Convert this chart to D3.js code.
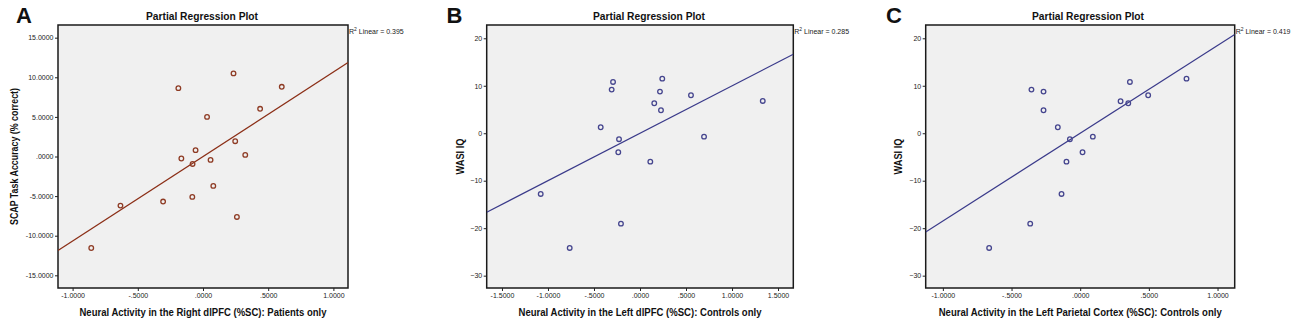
<!DOCTYPE html>
<html>
<head>
    <meta charset="UTF-8">
    <title>partial regression plots</title>
    <script src="https://cdn.jsdelivr.net/npm/d3@7"></script>
    <style type="text/css">
        body { margin: 0; background: #fff; }
        text { font-family: Arial, "Liberation Sans", sans-serif; }
        .tick text { font-size: 7px; fill: #222; }
        .frame { fill: #f0f0f0; stroke: #1a1a1a; stroke-width: 1.5px; }
        .dot { fill: none; stroke-width: 1.3px; }
    </style>
</head>
<body>
<script type="text/javascript">
    // panel A - patients, right dlPFC vs SCAP accuracy
    var aX = [-0.189, 0.234, 0.604, 0.438, 0.031, 0.247, -0.057, 0.324, -0.166, 0.058, -0.080, 0.079, -0.082, -0.306, -0.633, 0.260, -0.857];
    var aY = [8.63, 10.49, 8.80, 6.02, 5.00, 1.93, 0.80, 0.20, -0.25, -0.43, -0.94, -3.71, -5.10, -5.69, -6.20, -7.63, -11.55];
    // panel B - controls, left dlPFC vs WASI IQ
    var bX = [-0.293, -0.308, 0.242, 0.217, 0.554, 0.155, 0.228, 1.334, -0.427, 0.696, -0.228, -0.236, 0.112, -1.079, -0.207, -0.764];
    var bY = [10.8, 9.19, 11.5, 8.77, 8.0, 6.32, 4.84, 6.8, 1.26, -0.72, -1.26, -4.0, -5.98, -12.79, -19.04, -24.16];
    // panel C - controls, left parietal cortex vs WASI IQ
    var cX = [-0.355, -0.267, 0.362, 0.774, 0.495, 0.294, 0.350, -0.267, -0.163, -0.075, 0.092, 0.017, -0.100, -0.136, -0.364, -0.663];
    var cY = [9.19, 8.77, 10.8, 11.5, 8.0, 6.74, 6.32, 4.84, 1.26, -1.26, -0.72, -4.0, -5.98, -12.79, -19.04, -24.16];

    var panelLetters = ["A", "B", "C"];
    var titles = ["Partial Regression Plot", "Partial Regression Plot", "Partial Regression Plot"];
    var xLabels = [
        "Neural Activity in the Right dlPFC (%SC): Patients only",
        "Neural Activity in the Left dlPFC (%SC): Controls only",
        "Neural Activity in the Left Parietal Cortex (%SC): Controls only"
    ];
    var yLabels = ["SCAP Task Accuracy (% correct)", "WASI IQ", "WASI IQ"];
    var rSquared = ["0.395", "0.285", "0.419"];
    var slopes = [10.66, 9.99, 18.5];
    var intercepts = [0, 0, 0];

    var aXTicks = [-1, -0.5, 0, 0.5, 1];
    var bXTicks = [-1.5, -1, -0.5, 0, 0.5, 1, 1.5];
    var cXTicks = [-1, -0.5, 0, 0.5, 1];
    var aYTicks = [-15, -10, -5, 0, 5, 10, 15];
    var iqYTicks = [-30, -20, -10, 0, 10, 20];

    var width = 1300, height = 329;
    var plotTop = 25, plotBottom = 288;

    var svg = d3.select("body").append("svg")
        .attr("width", width)
        .attr("height", height);

    svg.append("rect").attr("width", width).attr("height", height).attr("fill", "#fff");

    // spss style numbers: .5000, -1.0000
    function spss(d){
        var s = Math.abs(d).toFixed(4);
        if (Math.abs(d) < 1) s = s.replace(/^0/, "");
        return (d < 0 ? "-" : "") + s;
    }

    var panels = [
        {xs: aX, ys: aY, left: 58, right: 348, xDom: [-1.112, 1.112], yDom: [-16.6, 16.6],
         xTicks: aXTicks, yTicks: aYTicks, yFmt: spss, color: "#8e3b24", lineColor: "#8b2e16",
         letterX: 16, titleX: 202, yLabelX: 14, xLabelW: 247, yLabelW: 137},
        {xs: bX, ys: bY, left: 486.7, right: 793.3, xDom: [-1.666, 1.666], yDom: [-32.6, 22.8],
         xTicks: bXTicks, yTicks: iqYTicks, yFmt: d3.format("d"), color: "#45458e", lineColor: "#3a3a8a",
         letterX: 446.5, titleX: 649, yLabelX: 460, xLabelW: 243, yLabelW: 36},
        {xs: cX, ys: cY, left: 925.7, right: 1234.7, xDom: [-1.125, 1.125], yDom: [-32.6, 22.8],
         xTicks: cXTicks, yTicks: iqYTicks, yFmt: d3.format("d"), color: "#45458e", lineColor: "#3a3a8a",
         letterX: 886, titleX: 1088, yLabelX: 898, xLabelW: 283, yLabelW: 36}
    ];

    panels.forEach(function(p, i){ renderPanel(p, i); });

    function renderPanel(p, i){
        var x = d3.scaleLinear().domain(p.xDom).range([p.left, p.right]);
        var y = d3.scaleLinear().domain(p.yDom).range([plotBottom, plotTop]);
        var g = svg.append("g");
        var cx = (p.left + p.right) / 2;

        g.append("rect")
            .attr("class", "frame")
            .attr("x", p.left).attr("y", plotTop)
            .attr("width", p.right - p.left)
            .attr("height", plotBottom - plotTop);

        var clipId = "clip" + i;
        g.append("clipPath").attr("id", clipId)
            .append("rect")
            .attr("x", p.left).attr("y", plotTop)
            .attr("width", p.right - p.left).attr("height", plotBottom - plotTop);

        // fit line
        var line = d3.line()
            .x(function(d){ return x(d); })
            .y(function(d){ return y(intercepts[i] + slopes[i] * d); });
        g.append("path")
            .datum(p.xDom)
            .attr("clip-path", "url(#" + clipId + ")")
            .attr("d", line)
            .attr("fill", "none")
            .attr("stroke", p.lineColor)
            .attr("stroke-width", 1.2);

        g.append("g").selectAll("circle")
            .data(d3.range(p.xs.length))
          .enter().append("circle")
            .attr("class", "dot")
            .attr("cx", function(k){ return x(p.xs[k]); })
            .attr("cy", function(k){ return y(p.ys[k]); })
            .attr("r", 2.3)
            .attr("stroke", p.color);

        var xAxis = d3.axisBottom(x).tickValues(p.xTicks).tickFormat(spss).tickSize(3).tickPadding(2);
        var yAxis = d3.axisLeft(y).tickValues(p.yTicks).tickFormat(p.yFmt).tickSize(3).tickPadding(1.5);

        g.append("g")
            .attr("transform", "translate(0," + plotBottom + ")")
            .call(xAxis)
            .call(function(a){ a.select(".domain").remove(); });
        g.append("g")
            .attr("transform", "translate(" + p.left + ",0)")
            .call(yAxis)
            .call(function(a){ a.select(".domain").remove(); });
        g.selectAll(".tick line").attr("stroke", "#222");

        // texts
        g.append("text")
            .attr("x", p.letterX).attr("y", 23)
            .attr("font-size", 22).attr("font-weight", "bold")
            .attr("fill", "#111")
            .text(panelLetters[i]);

        g.append("text")
            .attr("x", p.titleX).attr("y", 20)
            .attr("text-anchor", "middle")
            .attr("font-size", 10).attr("font-weight", "bold")
            .attr("textLength", 112).attr("lengthAdjust", "spacingAndGlyphs")
            .attr("fill", "#111")
            .text(titles[i]);

        g.append("text")
            .attr("x", cx).attr("y", 316)
            .attr("text-anchor", "middle")
            .attr("font-size", 10).attr("font-weight", "bold")
            .attr("textLength", p.xLabelW).attr("lengthAdjust", "spacingAndGlyphs")
            .attr("fill", "#111")
            .text(xLabels[i]);

        g.append("text")
            .attr("transform", "translate(" + (p.yLabelX + 3.5) + "," + ((plotTop + plotBottom) / 2) + ") rotate(-90)")
            .attr("text-anchor", "middle")
            .attr("font-size", 10).attr("font-weight", "bold")
            .attr("textLength", p.yLabelW).attr("lengthAdjust", "spacingAndGlyphs")
            .attr("fill", "#111")
            .text(yLabels[i]);

        var r2 = g.append("text")
            .attr("x", p.right + 1).attr("y", 33.5)
            .attr("font-size", 7)
            .attr("fill", "#222");
        r2.append("tspan").text("R");
        r2.append("tspan").attr("dy", -3).attr("font-size", 5).text("2");
        r2.append("tspan").attr("dy", 3).text(" Linear = " + rSquared[i]);
    }
</script>
</body>
</html>
